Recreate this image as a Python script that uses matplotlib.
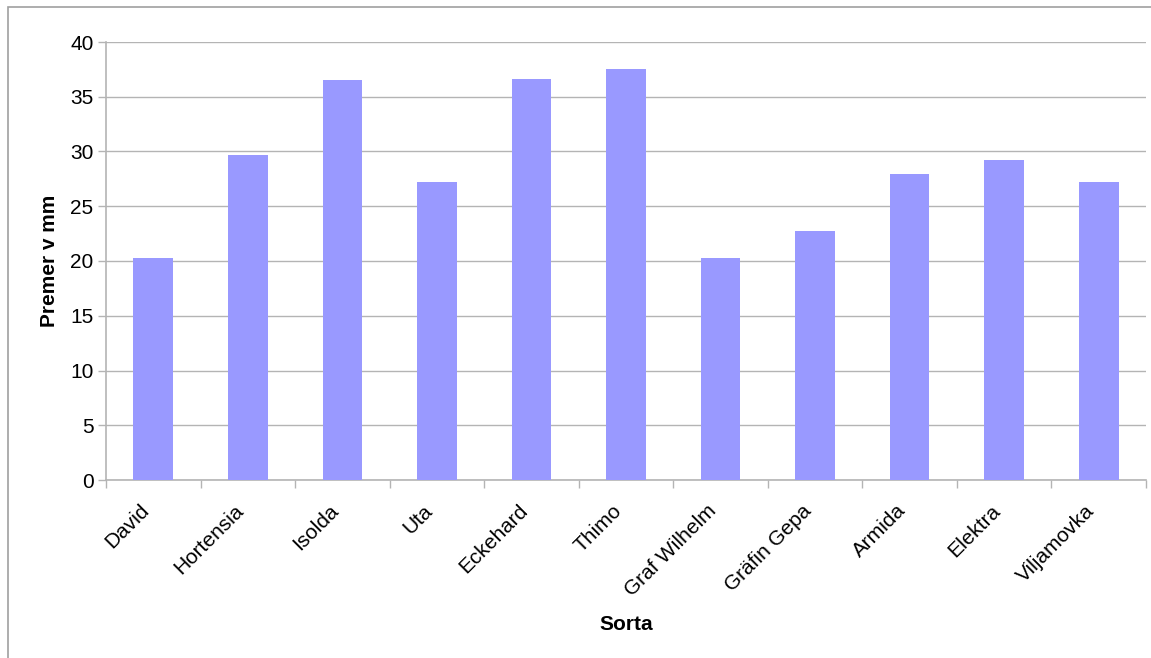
import matplotlib
matplotlib.use("Agg")
import matplotlib.pyplot as plt
from matplotlib.patches import Rectangle
from matplotlib.transforms import ScaledTranslation

plt.rcParams['font.family'] = ['Liberation Sans', 'DejaVu Sans']

sorte = ["David", "Hortensia", "Isolda", "Uta", "Eckehard", "Thimo",
         "Graf Wilhelm", "Gräfin Gepa", "Armida", "Elektra", "Viljamovka"]
premer = [20.3, 29.7, 36.5, 27.2, 36.6, 37.5, 20.3, 22.7, 27.9, 29.2, 27.2]
y_ticks = [0, 5, 10, 15, 20, 25, 30, 35, 40]

W, H = 1151, 658
fig = plt.figure(figsize=(W / 100, H / 100), dpi=100)
fig.patch.set_facecolor("white")

# outer chart frame
fig.patches.append(Rectangle((8 / W, -0.01), 1.05, 1 - 7 / H + 0.01,
                             transform=fig.transFigure, fill=False,
                             edgecolor="#a0a0a0", linewidth=1.2))

ax = fig.add_axes([106 / W, 1 - 480 / H, (1146 - 106) / W, (480 - 42) / H])
x = range(len(sorte))
ax.bar(x, premer, width=0.42, color="#9999ff", zorder=3)

ax.set_xlim(-0.5, len(sorte) - 0.5)
ax.set_ylim(0, 40)
ax.set_yticks(y_ticks)
ax.yaxis.grid(True, color="#b4b4b4", linewidth=1.0, zorder=0)

ax.set_xticks(list(x))
ax.set_xticklabels(sorte, rotation=45, ha="right", va="center",
                   rotation_mode="anchor", fontsize=15)
ax.tick_params(axis="x", length=0, pad=20)
shift = ScaledTranslation(-7 / 100, 0, fig.dpi_scale_trans)
for lbl in ax.get_xticklabels():
    lbl.set_transform(lbl.get_transform() + shift)
ax.set_xticks([i - 0.5 for i in range(len(sorte) + 1)], minor=True)
ax.tick_params(axis="x", which="minor", length=6, color="#b4b4b4", width=1)
ax.tick_params(axis="y", length=6, color="#b4b4b4", width=1, labelsize=15,
               pad=3)

for side in ("top", "right"):
    ax.spines[side].set_visible(False)
for side in ("left", "bottom"):
    ax.spines[side].set_color("#b4b4b4")
    ax.spines[side].set_linewidth(1.2)

ax.set_ylabel("Premer v mm", fontsize=15, fontweight="bold", labelpad=8)
ax.set_xlabel("Sorta", fontsize=15, fontweight="bold", labelpad=11)

fig.savefig("out.png", dpi=100, facecolor="white")
